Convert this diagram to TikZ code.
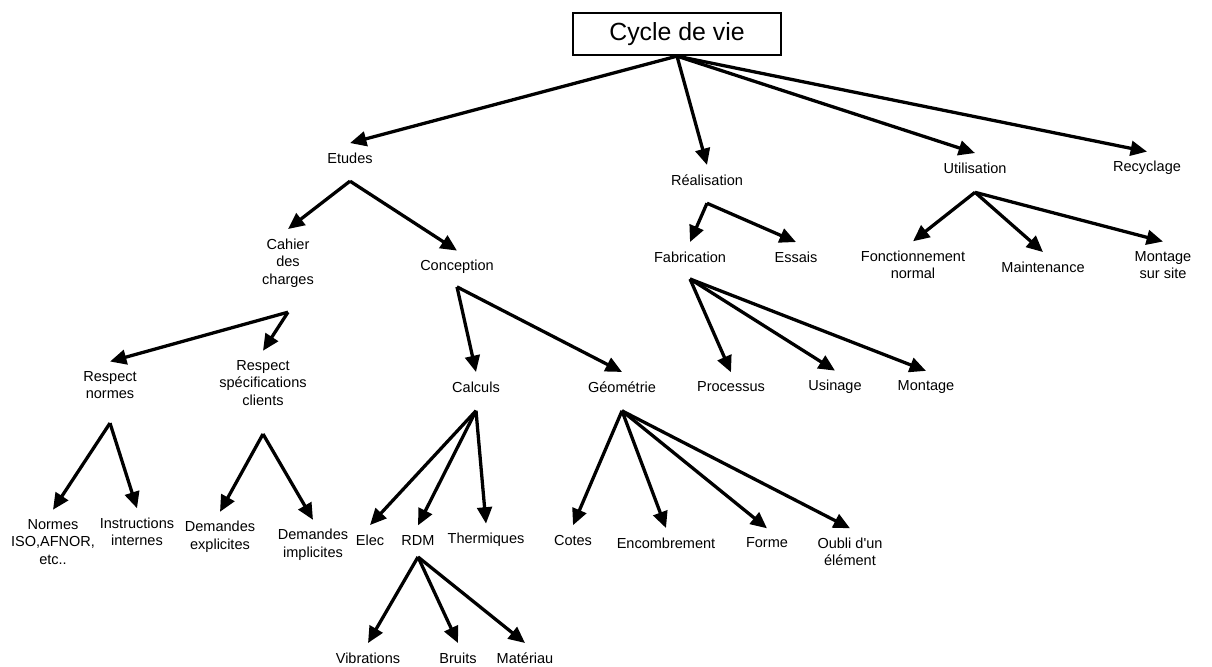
\documentclass[tikz,border=0pt]{standalone}
\usepackage{fontspec}
\setmainfont{Liberation Sans}[Ligatures=TeXOff]
\usetikzlibrary{arrows.meta}

\tikzset{
  lbl/.style={font=\fontsize{12.4}{15}\selectfont, align=center, inner xsep=1pt, inner ysep=8pt},
  titre/.style={draw, line width=1.8pt, font=\fontsize{21.2}{25}\selectfont, minimum width=178pt, minimum height=36pt, inner sep=0pt},
  fl/.style={-{Triangle[length=14pt,width=12.5pt]}, line width=2.8pt, line join=miter},
}

\begin{document}
\begin{tikzpicture}[x=0.03cm, y=-0.03cm]
      \useasboundingbox (0,0) rectangle (1212,666);
      \node[titre] (cycle) at (677,34) {Cycle de vie};
      \node[lbl] (etudes) at (350,158) {Etudes};
      \node[lbl] (real) at (707,180) {Réalisation};
      \node[lbl] (util) at (975,168) {Utilisation};
      \node[lbl] (recy) at (1147,168) {Recyclage};
      \node[lbl] (cahier) at (288,263) {Cahier\\des\\charges};
      \node[lbl] (concep) at (457,267) {Conception};
      \node[lbl] (fabr) at (690,257) {Fabrication};
      \node[lbl] (essais) at (796,257) {Essais};
      \node[lbl] (fonct) at (913,265) {Fonctionnement\\normal};
      \node[lbl] (maint) at (1043,267) {Maintenance};
      \node[lbl] (msite) at (1163,265) {Montage\\sur site};
      \node[lbl] (rnormes) at (110,385) {Respect\\normes};
      \node[lbl] (rspec) at (263,383) {Respect\\spécifications\\clients};
      \node[lbl] (calculs) at (476,387) {Calculs};
      \node[lbl] (geom) at (622,387) {Géométrie};
      \node[lbl] (process) at (731,387) {Processus};
      \node[lbl] (usin) at (835,387) {Usinage};
      \node[lbl] (montage) at (926,387) {Montage};
      \node[lbl] (normes) at (53,542) {Normes\\ISO,AFNOR,\\etc..};
      \node[lbl] (instr) at (137,532) {Instructions\\internes};
      \node[lbl] (dexpl) at (220,537) {Demandes\\explicites};
      \node[lbl] (dimpl) at (313,545) {Demandes\\implicites};
      \node[lbl] (elec) at (370,540) {Elec};
      \node[lbl] (rdm) at (418,540) {RDM};
      \node[lbl] (therm) at (486,540) {Thermiques};
      \node[lbl] (cotes) at (573,540) {Cotes};
      \node[lbl] (encomb) at (666,543) {Encombrement};
      \node[lbl] (forme) at (767,543) {Forme};
      \node[lbl] (oubli) at (850,552) {Oubli d'un\\élément};
      \node[lbl] (vibr) at (368,658) {Vibrations};
      \node[lbl] (bruits) at (458,658) {Bruits};
      \node[lbl] (mater) at (525,658) {Matériau};

      \foreach \p/\d/\cs in {cycle/0/{etudes,real,util,recy},
          etudes/7/{cahier,concep}, cahier/13/{rnormes,rspec},
          rnormes/12.5/{normes,instr}, rspec/16/{dexpl,dimpl},
          concep/3/{calculs,geom}, calculs/7.5/{elec,rdm,therm},
          rdm/2/{vibr,bruits,mater}, geom/7.5/{cotes,encomb,forme,oubli},
          real/7/{fabr,essais}, fabr/6/{process,usin,montage},
          util/8/{fonct,maint,msite}}
        \foreach \c in \cs
          \draw[fl] ([yshift=-\d pt]\p.south) -- (\c.north);
\end{tikzpicture}
\end{document}
